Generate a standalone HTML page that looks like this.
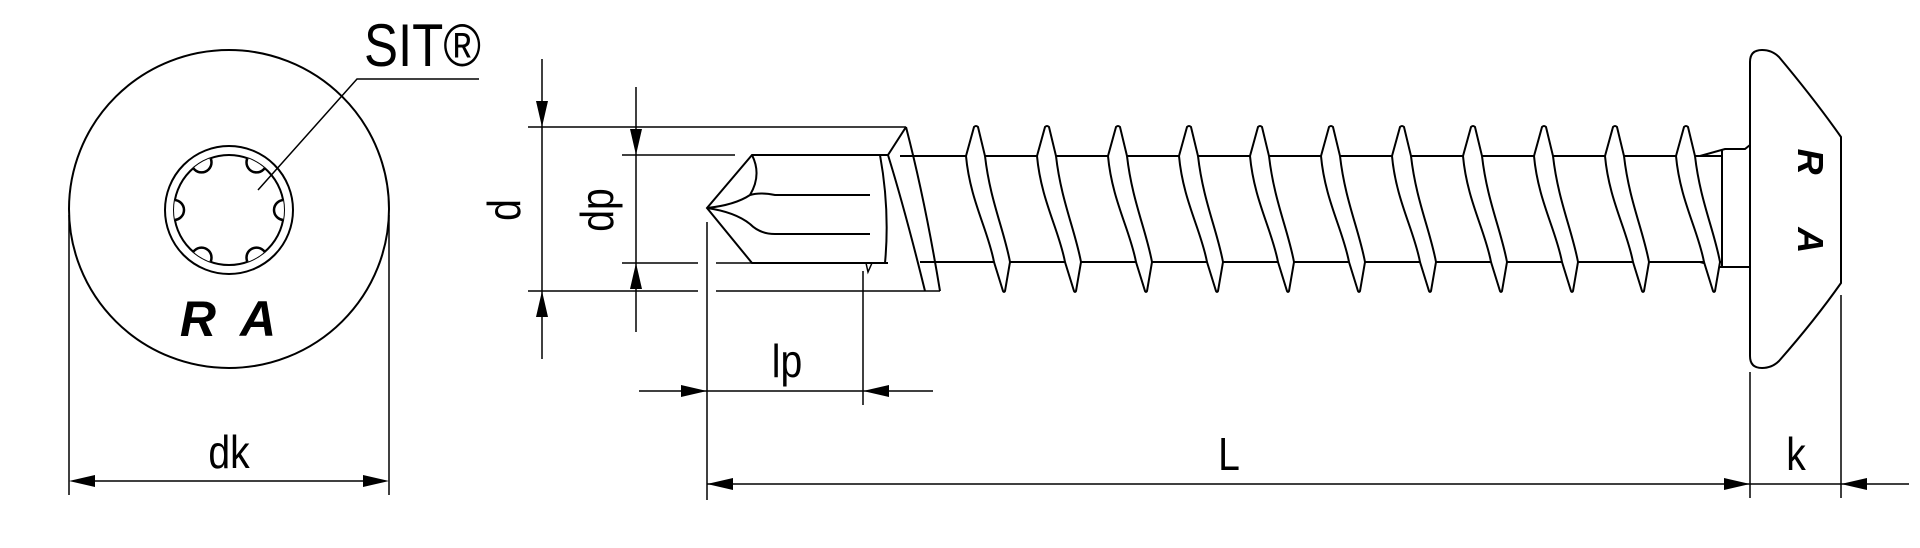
<!DOCTYPE html>
<html><head><meta charset="utf-8"><style>html,body{margin:0;padding:0;background:#fff}svg{display:block}</style></head>
<body>
<svg width="1920" height="548" viewBox="0 0 1920 548" xmlns="http://www.w3.org/2000/svg" font-family="'Liberation Sans', sans-serif">
<defs><clipPath id="cp"><circle cx="229" cy="210" r="55"/></clipPath></defs>
<g fill="none" stroke="#000" stroke-width="2">
<ellipse cx="229" cy="209" rx="160" ry="159"/>
<circle cx="229" cy="210" r="64"/>
<circle cx="229" cy="210" r="55"/>
<g fill="#fff" clip-path="url(#cp)" stroke-width="2.5">
<circle cx="284" cy="210" r="10"/><circle cx="256.5" cy="257.6" r="10"/><circle cx="201.5" cy="257.6" r="10"/>
<circle cx="174" cy="210" r="10"/><circle cx="201.5" cy="162.4" r="10"/><circle cx="256.5" cy="162.4" r="10"/>
</g>
<path d="M479 79 H357 L258 190" stroke-width="1.5"/>
<path d="M69 215 V495 M389 215 V495 M80 481 H378" stroke-width="1.5"/>
<path d="M542 59 V359 M636 87 V332" stroke-width="1.5"/>
<path d="M528 127 H906 M528 291 H698 M716 291 H940 M622 155 H735 M622 263 H698 M716 263 H752" stroke-width="1.5"/>
<path d="M888 155 H752 L707 208 L752 263 H888"/>
<path d="M752 155 Q762 175 750 195 Q735 205 707 208 M707 208 Q735 212 750 224 M750 195 Q760 192 775 195 H870 M750 224 Q760 234 775 234 H870"/>
<path d="M906 127 L888 155 Q905 210 925 291 M906 127 Q925 200 940 291 M880 155 Q890 210 885 263 H888"/>
<path d="M866 263 L868 272 L872 263" stroke-width="1.5"/>
<path d="M707 222 V500 M863 271 V405 M639 391 H933 M707 484 H1909 M1750 372 V498 M1841 295 V498" stroke-width="1.5"/>
<path d="M900 156 H1722 M920 262 H1722 M1722 149 V267 M1700 156 L1725 149 H1745 L1750 145 M1700 262 L1719 267 H1750 L1750 270"/>
<path d="M1750 62 Q1750 50 1762 50 Q1772 50 1779 57 Q1815 100 1841 137 V283 Q1815 320 1779 361 Q1772 368 1762 368 Q1750 368 1750 356 Z"/>
</g>
<g fill="#fff" stroke="#000" stroke-width="2" id="th">
<path d="M966 156 L974 127 Q976 125 978 127 L985 156 C990 200 1004 230 1010 262 L1005 291 Q1004 293 1003 291 L994 262 C988 230 970 200 966 156 Z"/>
</g>
<use href="#th" transform="translate(71,0)"/><use href="#th" transform="translate(142,0)"/><use href="#th" transform="translate(213,0)"/>
<use href="#th" transform="translate(284,0)"/><use href="#th" transform="translate(355,0)"/><use href="#th" transform="translate(426,0)"/>
<use href="#th" transform="translate(497,0)"/><use href="#th" transform="translate(568,0)"/><use href="#th" transform="translate(639,0)"/>
<use href="#th" transform="translate(710,0)"/>
<g fill="#000">
<path d="M69 481 L95 475 L95 487 Z M389 481 L363 475 L363 487 Z"/>
<path d="M542 127 L536 101 L548 101 Z M542 291 L536 317 L548 317 Z"/>
<path d="M636 155 L630 129 L642 129 Z M636 263 L630 289 L642 289 Z"/>
<path d="M707 391 L681 385 L681 397 Z M863 391 L889 385 L889 397 Z"/>
<path d="M707 484 L733 478 L733 490 Z M1750 484 L1724 478 L1724 490 Z M1841 484 L1867 478 L1867 490 Z"/>
</g>
<text transform="translate(364,66) scale(0.85,1)" font-size="60">SIT®</text>
<text x="231" y="336" font-size="50" font-weight="bold" font-style="italic" text-anchor="middle" letter-spacing="6">R A</text>
<text transform="translate(229,468) scale(0.85,1)" font-size="46" text-anchor="middle">dk</text>
<text transform="translate(787,377) scale(0.85,1)" font-size="46" text-anchor="middle">lp</text>
<text transform="translate(1229,470) scale(0.85,1)" font-size="46" text-anchor="middle">L</text>
<text transform="translate(1796,470) scale(0.85,1)" font-size="46" text-anchor="middle">k</text>
<text transform="translate(520,210) rotate(-90) scale(0.85,1)" font-size="46" text-anchor="middle">d</text>
<text transform="translate(613,210) rotate(-90) scale(0.85,1)" font-size="46" text-anchor="middle">dp</text>
<text transform="translate(1798,212) rotate(90)" font-size="36" font-weight="bold" font-style="italic" text-anchor="middle" letter-spacing="22">R A</text>
</svg>
</body></html>
